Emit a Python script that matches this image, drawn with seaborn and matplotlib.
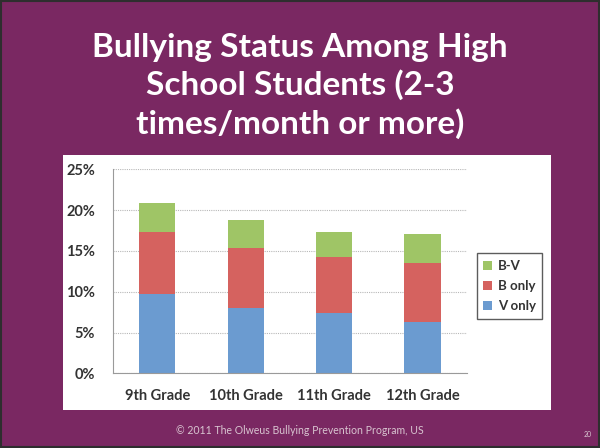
import numpy as np
import pandas as pd
import matplotlib
matplotlib.use('Agg')
import matplotlib.pyplot as plt
from matplotlib.patches import Rectangle, Patch
import seaborn as sns

#%% data (percent of students)
grades = ['9th Grade', '10th Grade', '11th Grade', '12th Grade']
v_only = [9.7, 8.0, 7.4, 6.3]
b_only = [7.65, 7.4, 6.9, 7.2]
b_v = [3.55, 3.4, 3.05, 3.55]
series_names = ['B-V', 'B only', 'V only']
y_ticks = [0, 5, 10, 15, 20, 25]

#%% build cumulative heights for the stacked look
df = pd.DataFrame({'grade': grades, 'V only': v_only, 'B only': b_only, 'B-V': b_v})
df['v_top'] = df['V only']
df['b_top'] = df['V only'] + df['B only']
df['bv_top'] = df['b_top'] + df['B-V']

purple = '#7a2862'
blue = '#6b9bd0'
red = '#d5625f'
green = '#9fc566'
txt = '#333333'

sns.set_style('white')
plt.rcParams['font.family'] = ['Lato', 'DejaVu Sans']

fig = plt.figure(figsize=(6, 4.48), dpi=100, facecolor=purple)

# white chart panel and slide border (kept behind the axes)
fig.patches.append(Rectangle((63 / 600, 1 - 410 / 448), (551 - 63) / 600, (410 - 155) / 448,
                             transform=fig.transFigure, facecolor='white', edgecolor='none', zorder=-2))
fig.patches.append(Rectangle((0.002, 0.002), 0.996, 0.996, transform=fig.transFigure,
                             facecolor='none', edgecolor='#2e2e2e', linewidth=1.5, zorder=-1))

ax = fig.add_axes([113 / 600, 1 - 373.3 / 448, (466.7 - 113) / 600, (373.3 - 169.3) / 448])
ax.set_facecolor('white')

for col, c in [('bv_top', green), ('b_top', red), ('v_top', blue)]:
    sns.barplot(data=df, x='grade', y=col, color=c, width=0.41, ax=ax, saturation=1,
                linewidth=0, edgecolor='none', zorder=2)

ax.set_ylim(0, 25)
ax.set_xlim(-0.5, len(grades) - 0.5)
ax.set_yticks(y_ticks)
ax.set_yticklabels([f'{t}%' for t in y_ticks], fontsize=10.5, color=txt, fontweight='bold')
ax.set_xticks(range(len(grades)))
ax.set_xticklabels(grades, fontsize=10.5, color=txt, fontweight='bold')
ax.set_xlabel('')
ax.set_ylabel('')
ax.tick_params(axis='x', length=0, pad=11)
ax.tick_params(axis='y', length=0, pad=13)
ax.set_xticks(np.arange(-0.5, len(grades), 1), minor=True)
ax.tick_params(axis='x', which='minor', length=4, color='#9a9a9a', direction='out')

ax.yaxis.grid(True, color='#b8b8b8', linestyle=(0, (1, 1)), linewidth=0.8, zorder=0)
ax.set_axisbelow(True)
for s in ['top', 'right']:
    ax.spines[s].set_visible(False)
ax.spines['left'].set_color('#9a9a9a')
ax.spines['bottom'].set_color('#9a9a9a')
ax.spines['left'].set_linewidth(0.8)
ax.spines['bottom'].set_linewidth(0.8)

handles = [Patch(facecolor=c, edgecolor='none') for c in [green, red, blue]]
leg = fig.legend(handles, series_names, loc='center left', bbox_to_anchor=(470 / 600, 1 - 286 / 448),
                 frameon=True, fancybox=False, fontsize=9.5, handlelength=0.7, handleheight=0.7,
                 handletextpad=0.4, borderpad=0.5, labelspacing=0.6, labelcolor=txt)
leg.get_frame().set_edgecolor('#333333')
leg.get_frame().set_linewidth(1)
for t in leg.get_texts():
    t.set_fontweight('bold')

# slide title and footer
fig.text(0.5, 1 - 86 / 448, 'Bullying Status Among High\nSchool Students (2-3\ntimes/month or more)',
         ha='center', va='center', color='white', fontsize=24, fontweight='bold', linespacing=1.3)
fig.text(0.5, 1 - 430 / 448, '© 2011 The Olweus Bullying Prevention Program, US',
         ha='center', va='center', color='#d8c4d0', fontsize=7.6)
fig.text(588 / 600, 1 - 434 / 448, '20', ha='center', va='center', color='#d8c4d0', fontsize=5)

fig.savefig('out.png', dpi=100, facecolor=purple)
